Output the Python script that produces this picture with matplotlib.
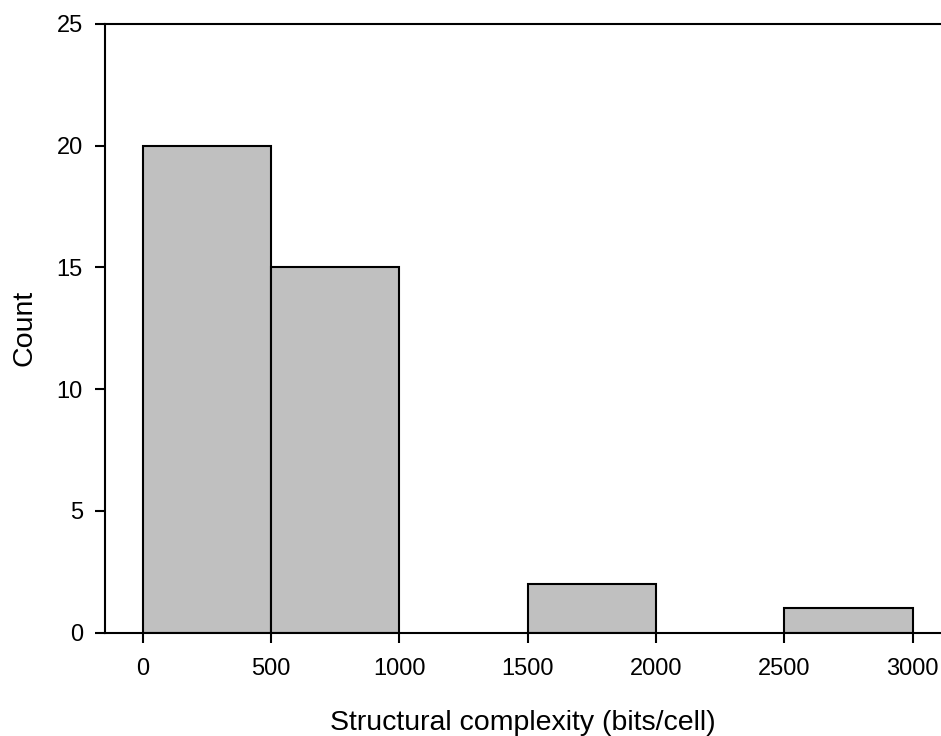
import matplotlib
matplotlib.use("Agg")
import matplotlib.pyplot as plt

# histogram bins (left edges) and counts
bin_left = [0, 500, 1500, 2500]
bin_width = 500
counts = [20, 15, 2, 1]
xticks = [0, 500, 1000, 1500, 2000, 2500, 3000]
yticks = [0, 5, 10, 15, 20, 25]

plt.rcParams["font.family"] = ["Liberation Sans", "DejaVu Sans"]

fig = plt.figure(figsize=(9.41, 7.36), dpi=100)
ax = fig.add_axes([0.1116, 0.1404, 1 - 0.1116, 0.827])

ax.bar(bin_left, counts, width=bin_width, align="edge",
       color="#c0c0c0", edgecolor="black", linewidth=1.5, zorder=2)

ax.set_xlim(-147, 3110)
ax.set_ylim(0, 25)
ax.set_xticks(xticks)
ax.set_yticks(yticks)
ax.tick_params(direction="out", length=7, width=1.5, labelsize=17)
ax.tick_params(axis="x", pad=11)
ax.tick_params(axis="y", pad=9)
ax.spines["right"].set_visible(False)
for s in ("left", "top", "bottom"):
    ax.spines[s].set_linewidth(1.5)
ax.spines["bottom"].set_zorder(3)

ax.set_xlabel("Structural complexity (bits/cell)", fontsize=20.5, va="baseline")
ax.xaxis.set_label_coords(0.5, -0.160)
ax.set_ylabel("Count", fontsize=20.5, labelpad=14)

fig.savefig("out.png", dpi=100)
